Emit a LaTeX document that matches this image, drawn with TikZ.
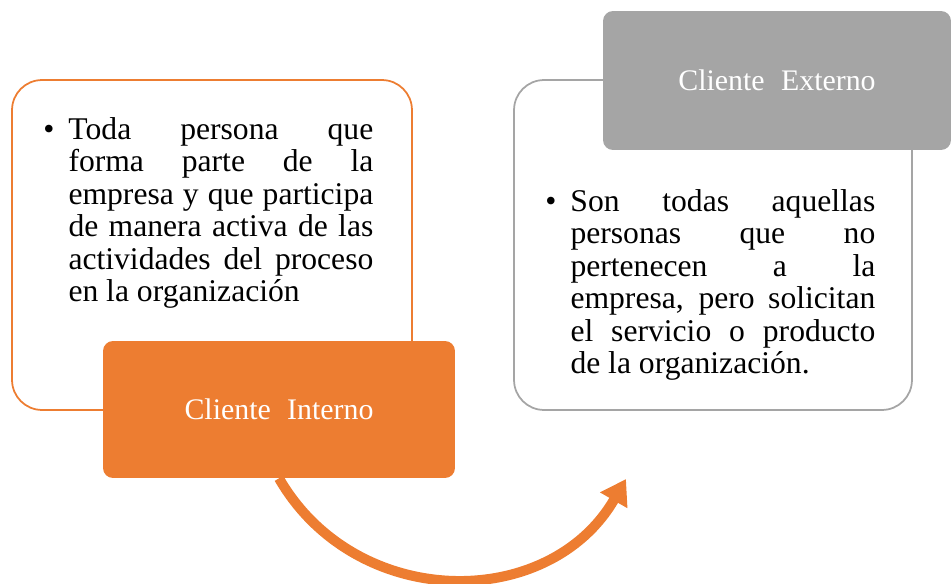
\documentclass[tikz,border=0pt]{standalone}
\usepackage{fontspec}
\setmainfont{Liberation Serif}
\usetikzlibrary{calc,arrows.meta}
\definecolor{naranja}{HTML}{ED7D31}
\definecolor{gris}{HTML}{A5A5A5}
\hyphenpenalty=10000
\exhyphenpenalty=10000
\tolerance=10000
\def\vineta#1{\llap{\textbullet\hspace{8pt}}#1}

\begin{document}
\begin{tikzpicture}[x=0.02cm, y=0.02cm,
		caja/.style={draw, line width=1pt, fill=white, rounded corners=0.6cm, inner sep=0pt},
		etiqueta/.style={rounded corners=0.2cm, text=white, inner sep=0pt, font=\fontsize{17}{18}\selectfont},
		cuerpo/.style={anchor=north west, inner sep=0pt, text width=173.5pt, align=justify, font=\fontsize{18}{18.5}\selectfont},
		flecha/.style={draw=naranja, line width=5.7pt, -{Triangle[length=14pt,width=17pt]}}]
		%%%%% START %%%%%
		\useasboundingbox (0, 0) rectangle (951, 583);
		
		% cliente interno
		\node[caja, draw=naranja, minimum width=8cm, minimum height=6.6cm] (intbox) at (212, 338) {};
		\node[cuerpo] (inttexto) at ($(intbox.north west)+(57, -38)$)
			{\vineta{Toda persona que\linebreak forma parte de la\linebreak empresa y que participa\linebreak de manera activa de las\linebreak actividades del proceso\linebreak en la organización}};
		\node[etiqueta, fill=naranja, minimum width=7.04cm, minimum height=2.74cm] (intlabel) at (279, 173.5) {Cliente\hspace{0.55em}Interno};
		
		% cliente externo
		\node[caja, draw=gris, minimum width=7.96cm, minimum height=6.6cm] (extbox) at (713, 338) {};
		\node[cuerpo] (exttexto) at ($(extbox.north west)+(57, -110)$)
			{\vineta{Son todas aquellas\linebreak personas que no\linebreak pertenecen a la\linebreak empresa, pero solicitan\linebreak el servicio o producto\linebreak de la organización.}};
		\node[etiqueta, fill=gris, minimum width=6.96cm, minimum height=2.78cm] (extlabel) at (777, 502.5) {Cliente\hspace{0.55em}Externo};
		
		% flecha
		\coordinate (fin) at (626, 104);
		\draw[flecha] (intlabel.south) to[out=-60, in=-120, looseness=1.13] (fin);
		%%%%% END %%%%%
\end{tikzpicture}
\end{document}
